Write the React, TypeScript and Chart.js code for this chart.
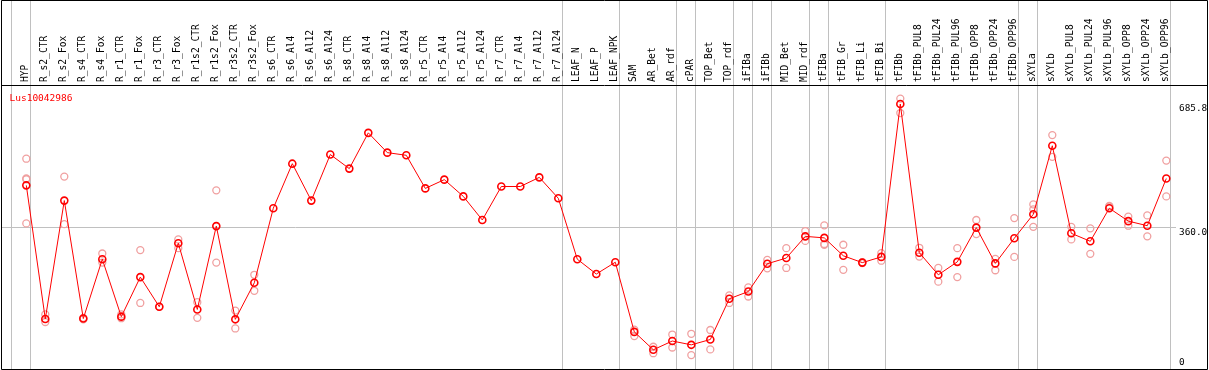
import React, { useEffect, useRef } from "react";
import { Chart, registerables } from "chart.js";

Chart.register(...registerables);

const categories = [
  "HYP", "R_s2_CTR", "R_s2_Fox", "R_s4_CTR", "R_s4_Fox", "R_r1_CTR", "R_r1_Fox", "R_r3_CTR", "R_r3_Fox",
  "R_r1s2_CTR", "R_r1s2_Fox", "R_r3s2_CTR", "R_r3s2_Fox", "R_s6_CTR", "R_s6_Al4", "R_s6_Al12", "R_s6_Al24",
  "R_s8_CTR", "R_s8_Al4", "R_s8_Al12", "R_s8_Al24", "R_r5_CTR", "R_r5_Al4", "R_r5_Al12", "R_r5_Al24",
  "R_r7_CTR", "R_r7_Al4", "R_r7_Al12", "R_r7_Al24", "LEAF_N", "LEAF_P", "LEAF_NPK", "SAM", "AR_Bet", "AR_rdf",
  "cPAR", "TOP_Bet", "TOP_rdf", "iFIBa", "iFIBb", "MID_Bet", "MID_rdf", "tFIBa", "tFIB_Gr", "tFIB_Li", "tFIB_Bi",
  "tFIBb", "tFIBb_PUL8", "tFIBb_PUL24", "tFIBb_PUL96", "tFIBb_OPP8", "tFIBb_OPP24", "tFIBb_OPP96",
  "sXYLa", "sXYLb", "sXYLb_PUL8", "sXYLb_PUL24", "sXYLb_PUL96", "sXYLb_OPP8", "sXYLb_OPP24", "sXYLb_OPP96",
];

const means = [
  472, 121, 432, 122, 278, 127, 231, 153, 320, 146, 365, 120, 216,
  412, 529, 432, 553, 516, 610, 558, 551, 464, 487, 443, 381, 469, 469, 493, 438,
  278, 239, 270, 87, 40, 63, 53, 67, 174, 193, 266, 281, 338, 334, 287, 269, 284,
  685.8, 295, 237, 271, 361, 267, 333, 396, 576, 346, 325, 412, 378, 366, 490,
];

const replicates: number[][] = [
  [542, 490, 488, 372], [133, 113], [495, 370], [120, 124], [293, 269], [133, 123], [302, 163], [153],
  [330, 307], [165, 124], [459, 269], [143, 96], [237, 195],
  [], [], [], [], [], [], [], [], [], [], [], [], [], [], [], [],
  [], [], [],
  [93, 76], [48, 31], [80, 46], [82, 26], [92, 41], [183, 163], [204, 180], [276, 254], [307, 255],
  [352, 326], [367, 318, 316], [316, 250], [268, 270], [294, 274],
  [700, 662], [308, 285], [255, 219], [307, 231], [381, 344], [279, 249], [386, 284],
  [422, 409, 363], [604, 547], [363, 330], [359, 292], [418, 416], [390, 366], [393, 338], [537, 443],
];

const groupEnds = [-1, 0, 28, 31, 34, 35, 37, 38, 39, 41, 42, 45, 52, 53, 60];
const yTickValues = [360, 685.8];
const yZeroTick = [0];
const chartTitle = "Lus10042986";

const MONO = '"DejaVu Sans Mono", monospace';

function zeroPad(s: any) {
  s.paddingLeft = 0;
  s.paddingRight = 0;
  s.paddingTop = 0;
  s.paddingBottom = 0;
}

export default function App() {
  const ref = useRef<HTMLCanvasElement>(null);

  useEffect(() => {
    document.body.style.margin = "0";
    const canvas = ref.current;
    if (!canvas) return;

    const meanData = means.map((v, i) => ({ x: i, y: v }));
    const repData = replicates.flatMap((arr, i) => arr.map((v) => ({ x: i, y: v })));

    const xMin = -1.279;
    const xMax = 60.51;
    const yMin = -10.5;
    const yMax = 735.7;

    const framePlugin = {
      id: "frame",
      afterDraw(chart: any) {
        const { ctx, chartArea } = chart;
        ctx.save();
        ctx.fillStyle = "#ff0000";
        ctx.font = `9.5px ${MONO}`;
        ctx.textAlign = "left";
        ctx.textBaseline = "alphabetic";
        ctx.fillText(chartTitle, chartArea.left + 7.5, chartArea.top + 15.7);
        ctx.strokeStyle = "#000";
        ctx.lineWidth = 1;
        ctx.beginPath();
        ctx.rect(1.5, 0.5, 1206, 369);
        ctx.moveTo(1, 85.5);
        ctx.lineTo(1208, 85.5);
        ctx.stroke();
        ctx.restore();
      },
    };

    const chart = new Chart(canvas, {
      type: "line",
      data: {
        datasets: [
          {
            label: "mean",
            data: meanData,
            xAxisID: "x",
            yAxisID: "y",
            borderColor: "#ff0000",
            borderWidth: 1,
            pointRadius: 3.5,
            pointBorderWidth: 1.6,
            pointBorderColor: "#ff0000",
            pointBackgroundColor: "rgba(0,0,0,0)",
            tension: 0,
            fill: false,
          },
          {
            label: "replicates",
            data: repData,
            xAxisID: "x",
            yAxisID: "y",
            showLine: false,
            pointRadius: 3.5,
            pointBorderWidth: 1.3,
            pointBorderColor: "#f0a0a0",
            pointBackgroundColor: "rgba(0,0,0,0)",
          },
        ],
      },
      options: {
        responsive: false,
        animation: false,
        devicePixelRatio: 1,
        events: [],
        layout: { autoPadding: false, padding: { left: 2, right: 2, top: 0, bottom: 1 } },
        plugins: {
          legend: { display: false },
          tooltip: { enabled: false },
          title: { display: false },
        },
        scales: {
          x: {
            type: "linear",
            position: "top",
            weight: 1,
            min: xMin,
            max: xMax,
            afterBuildTicks: (s: any) => {
              s.ticks = categories.map((_, i) => ({ value: i }));
            },
            afterFit: (s: any) => {
              s.height = 85;
              zeroPad(s);
            },
            grid: { display: false, drawTicks: false },
            border: { display: false },
            ticks: {
              autoSkip: false,
              minRotation: 90,
              maxRotation: 90,
              padding: 3,
              labelOffset: 10.8,
              color: "#000",
              font: { family: MONO, size: 9.6 },
              callback: (v: any) => categories[Math.round(Number(v))] ?? "",
            },
          },
          xg: {
            type: "linear",
            position: "top",
            weight: 0,
            min: xMin,
            max: xMax,
            afterBuildTicks: (s: any) => {
              s.ticks = groupEnds.map((i) => ({ value: i + 0.21 }));
            },
            afterFit: (s: any) => {
              s.height = 0;
              zeroPad(s);
            },
            grid: {
              display: true,
              color: "#c0c0c0",
              lineWidth: 1,
              drawTicks: true,
              tickLength: 85,
              drawOnChartArea: true,
            },
            border: { display: false },
            ticks: { display: false },
          },
          y0: {
            type: "linear",
            position: "right",
            weight: -1,
            min: yMin,
            max: yMax,
            afterBuildTicks: (s: any) => {
              s.ticks = yZeroTick.map((v) => ({ value: v }));
            },
            afterFit: (s: any) => {
              s.width = 0;
              zeroPad(s);
            },
            grid: { display: false, drawTicks: false },
            border: { display: false },
            ticks: {
              mirror: true,
              crossAlign: "near",
              padding: 8.7,
              labelOffset: -2.5,
              color: "#000",
              font: { family: MONO, size: 9.4 },
              callback: (v: any) => String(v),
            },
          },
          y: {
            type: "linear",
            position: "right",
            weight: 0,
            min: yMin,
            max: yMax,
            afterBuildTicks: (s: any) => {
              s.ticks = yTickValues.map((v) => ({ value: v }));
            },
            afterFit: (s: any) => {
              s.width = 31;
              zeroPad(s);
            },
            grid: {
              display: true,
              drawTicks: false,
              color: (c: any) => (c.tick && c.tick.value === 360 ? "#c0c0c0" : "rgba(0,0,0,0)"),
            },
            border: { display: false },
            ticks: {
              align: "start",
              padding: 3,
              color: "#000",
              font: { family: MONO, size: 9.4 },
              callback: (v: any) => Number(v).toFixed(1),
            },
          },
        },
      } as any,
      plugins: [framePlugin],
    });

    return () => chart.destroy();
  }, []);

  return (
    <canvas
      ref={ref}
      width={1209}
      height={370}
      style={{ display: "block", width: "1209px", height: "370px" }}
    />
  );
}
